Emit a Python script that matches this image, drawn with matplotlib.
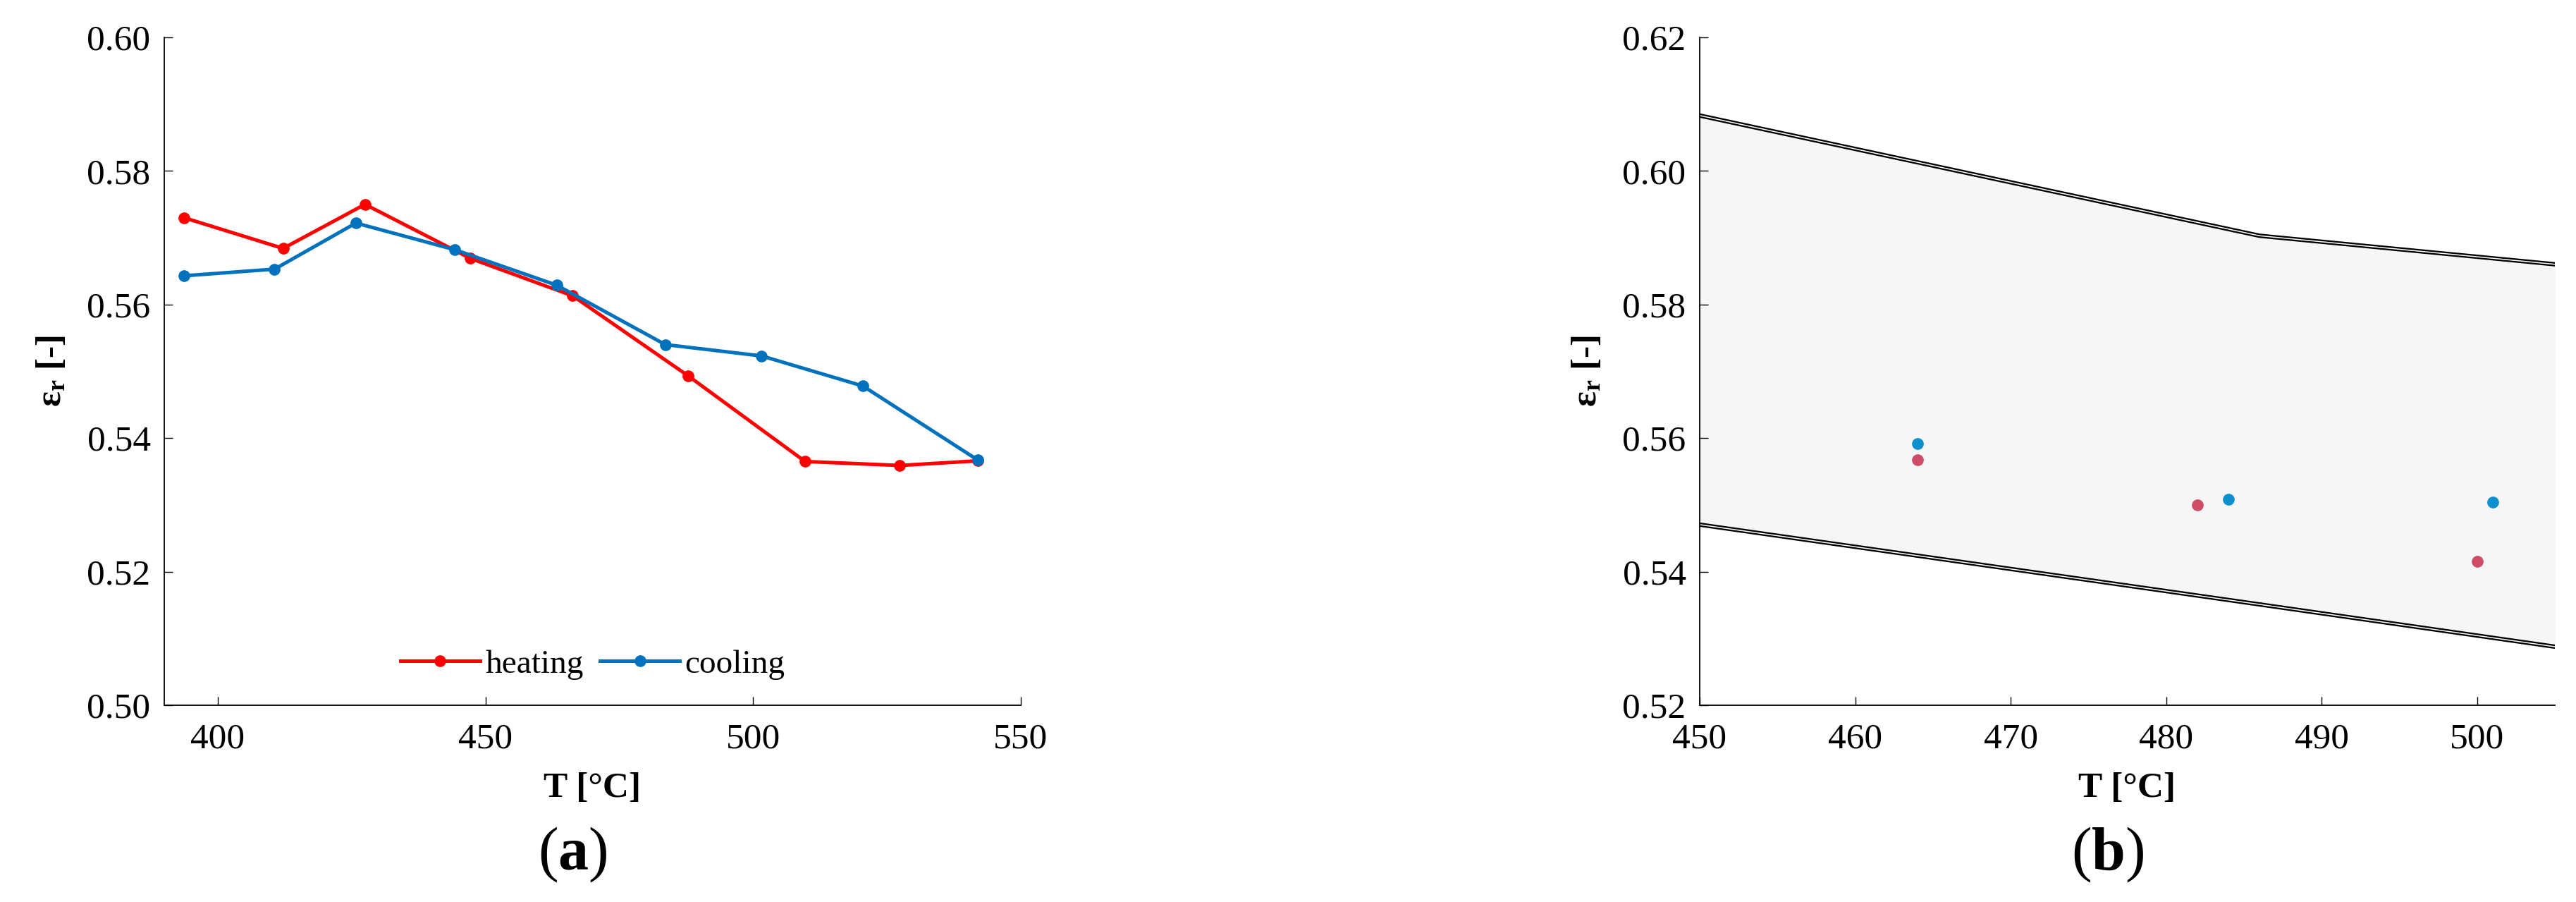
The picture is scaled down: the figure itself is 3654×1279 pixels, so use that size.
import matplotlib.pyplot as plt
import numpy as np

plt.rcParams['font.family'] = ['Liberation Serif', 'DejaVu Serif']
plt.rcParams['mathtext.fontset'] = 'custom'
plt.rcParams['mathtext.rm'] = 'Liberation Serif'
plt.rcParams['mathtext.bf'] = 'Liberation Serif:bold'
plt.rcParams['mathtext.it'] = 'Liberation Serif:italic'

# (a) emissivity vs temperature
heat_T = [393.7, 412.2, 427.5, 447.2, 466.3, 487.9, 509.7, 527.4, 542.0]
heat_eps = [0.5730, 0.5684, 0.5750, 0.5669, 0.5613, 0.5493, 0.5365, 0.5359, 0.5366]
cool_T = [393.7, 410.6, 425.8, 444.3, 463.3, 483.6, 501.6, 520.5, 542.0]
cool_eps = [0.5643, 0.5653, 0.5722, 0.5682, 0.5629, 0.5540, 0.5523, 0.5478, 0.5367]

# (b) uncertainty band and single points
band_T = [445.0, 486.0, 510.0]
band_hi = [0.6108, 0.5903, 0.5849]
band_lo = [0.5487, 0.5351, 0.5271]
pt_heat_T = [464.0, 482.0, 500.0]
pt_heat_eps = [0.5568, 0.5500, 0.5415]
pt_cool_T = [464.0, 484.0, 501.0]
pt_cool_eps = [0.5592, 0.5508, 0.5504]

red = '#FF0000'
blue = '#0072BD'
pt_red = '#CF4C66'
pt_blue = '#0C90CE'

W, H = 3655, 1279
fig = plt.figure(figsize=(W / 100, H / 100), dpi=100)

ax1 = fig.add_axes([233 / W, 1 - 1000 / H, 1215 / W, 947 / H])
ax2 = fig.add_axes([2411 / W, 1 - 1000 / H, 1213 / W, 947 / H])

ax1.plot(heat_T, heat_eps, '-o', color=red, lw=3.6, ms=11, label='heating', zorder=3)
ax1.plot(cool_T, cool_eps, '-o', color=blue, lw=3.6, ms=11, label='cooling', zorder=3)
ax1.set_xlim(390, 550)
ax1.set_ylim(0.50, 0.60)
ax1.set_xticks([400, 450, 500, 550])
ax1.set_yticks(np.arange(0.50, 0.601, 0.02))
ax1.legend(loc='center', bbox_to_anchor=(0.5, 0.061), ncol=2, frameon=False,
           fontsize=34, handlelength=2.4, handletextpad=0.15, columnspacing=0.5,
           borderpad=0.1)

ax2.fill_between(band_T, band_lo, band_hi, color='#F6F6F6', lw=0, zorder=1)
for yy in (band_hi, band_lo):
    ax2.plot(band_T, yy, color='black', lw=4.4, solid_capstyle='butt', zorder=2)
    ax2.plot(band_T, yy, color='white', lw=1.1, solid_capstyle='butt', zorder=2)
ax2.plot(pt_heat_T, pt_heat_eps, 'o', color=pt_red, ms=11, zorder=3)
ax2.plot(pt_cool_T, pt_cool_eps, 'o', color=pt_blue, ms=11, zorder=3)
ax2.set_xlim(450, 505)
ax2.set_ylim(0.52, 0.62)
ax2.set_xticks(np.arange(450, 501, 10))
ax2.set_yticks(np.arange(0.52, 0.621, 0.02))

for ax in (ax1, ax2):
    ax.spines['top'].set_visible(False)
    ax.spines['right'].set_visible(False)
    for s in ('left', 'bottom'):
        ax.spines[s].set_linewidth(1.3)
    ax.tick_params(direction='in', length=8.5, width=1.0, labelsize=37)
    ax.tick_params(axis='x', pad=18)
    ax.tick_params(axis='y', pad=14)
    ax.yaxis.set_major_formatter(plt.FormatStrFormatter('%.2f'))
    ax.set_xlabel('T [°C]', fontsize=37, fontweight='bold')
    ax.set_ylabel('ε$_\\mathbf{r}$ [-]', fontsize=37, fontweight='bold')
    ax.xaxis.set_label_coords(0.5, -0.10)
    ax.yaxis.set_label_coords(-0.112, 0.5)

fig.text(812 / W, 1 - 1212 / H, '(' + r'$\mathbf{a}$' + ')', fontsize=62,
         ha='center', va='center')
fig.text(2990 / W, 1 - 1212 / H, '(' + r'$\mathbf{b}$' + ')', fontsize=62,
         ha='center', va='center')

fig.savefig('out.png', dpi=100)
